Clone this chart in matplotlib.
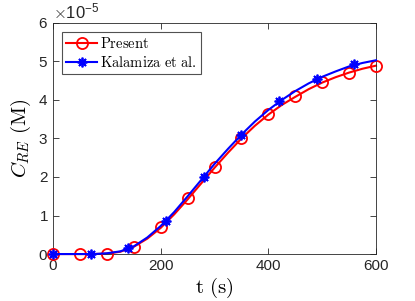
import matplotlib
matplotlib.use("Agg")
import matplotlib.pyplot as plt
import numpy as np
from matplotlib.ticker import ScalarFormatter
from matplotlib.lines import Line2D

plt.rcParams['font.family'] = ['Liberation Sans', 'DejaVu Sans']
plt.rcParams['mathtext.fontset'] = 'cm'

SCALE = 1e-5

# Present (markers)
present_t = [0, 50, 100, 150, 200, 250, 300, 350, 400, 450, 500, 550, 600]
present_c = [0, 0, 0, 0.19, 0.69, 1.45, 2.25, 3.0, 3.63, 4.09, 4.46, 4.71, 4.89]
# Kalamiza et al. (markers)
kal_t = [0, 70, 140, 210, 280, 350, 420, 490, 560]
kal_c = [0, 0, 0.15, 0.865, 1.99, 3.09, 3.98, 4.55, 4.93]

# curves
curve_t = [0, 25, 50, 75, 100, 125, 150, 175, 200, 225, 250, 275, 300, 325,
           350, 375, 400, 425, 450, 475, 500, 525, 550, 575, 600]
present_curve = [0, 0, 0, 0, 0.01, 0.06, 0.19, 0.40, 0.68, 1.03, 1.42, 1.83,
                 2.24, 2.63, 3.00, 3.33, 3.62, 3.87, 4.08, 4.28, 4.45, 4.59,
                 4.71, 4.81, 4.89]
kal_curve = [0, 0, 0, 0, 0.02, 0.07, 0.20, 0.43, 0.73, 1.09, 1.50, 1.92,
             2.34, 2.73, 3.10, 3.44, 3.74, 4.00, 4.23, 4.43, 4.60, 4.74,
             4.87, 4.96, 5.03]

fig = plt.figure(figsize=(4.15, 3.01), dpi=100)
ax = fig.add_axes([0.128, 0.156, 0.778, 0.768])

pc = np.array(present_curve) * SCALE
kc = np.array(kal_curve) * SCALE
ax.plot(curve_t, pc, color='r', lw=1.5, zorder=2, clip_on=False)
ax.plot(present_t, np.array(present_c) * SCALE, 'o', color='r', mfc='none',
        ms=8, mew=1.3, zorder=3, clip_on=False)
ax.plot(curve_t, kc, color='b', lw=1.5, zorder=4, clip_on=False)
ax.plot(kal_t, np.array(kal_c) * SCALE, ls='none', marker=(8, 2, 0),
        color='b', ms=7, mew=1.3, zorder=5, clip_on=False)

h1 = Line2D([], [], color='r', lw=1.5, marker='o', mfc='none', ms=8, mew=1.3)
h2 = Line2D([], [], color='b', lw=1.5, marker=(8, 2, 0), ms=7, mew=1.3)
leg = ax.legend([h1, h2], [r'$\mathrm{Present}$', r'$\mathrm{Kalamiza\ et\ al.}$'],
                loc='upper left', fontsize=10.5, frameon=True, fancybox=False,
                borderaxespad=0.6, handlelength=2.1, handletextpad=0.2,
                borderpad=0.3, labelspacing=0.25)
leg.get_frame().set_edgecolor('#262626')
leg.get_frame().set_linewidth(0.8)

ax.set_xlim(0, 600)
ax.set_ylim(0, 6e-5)
ax.set_xticks([0, 200, 400, 600])
ax.set_yticks(np.arange(0, 7) * SCALE)
fmt = ScalarFormatter(useMathText=True)
fmt.set_powerlimits((0, 0))
ax.yaxis.set_major_formatter(fmt)
ax.yaxis.get_offset_text().set_fontsize(12)
ax.yaxis.get_offset_text().set_color('#262626')

ax.tick_params(direction='in', top=True, right=True, labelsize=11,
               colors='#262626', length=4, width=0.6)
for s in ax.spines.values():
    s.set_color('#262626')
    s.set_linewidth(0.6)

ax.set_xlabel(r'$\mathrm{t\ (s)}$', fontsize=15, labelpad=2)
ax.set_ylabel(r'$C_{RE}\ \mathrm{(M)}$', fontsize=15, labelpad=4)

fig.savefig('out.png', dpi=100)
